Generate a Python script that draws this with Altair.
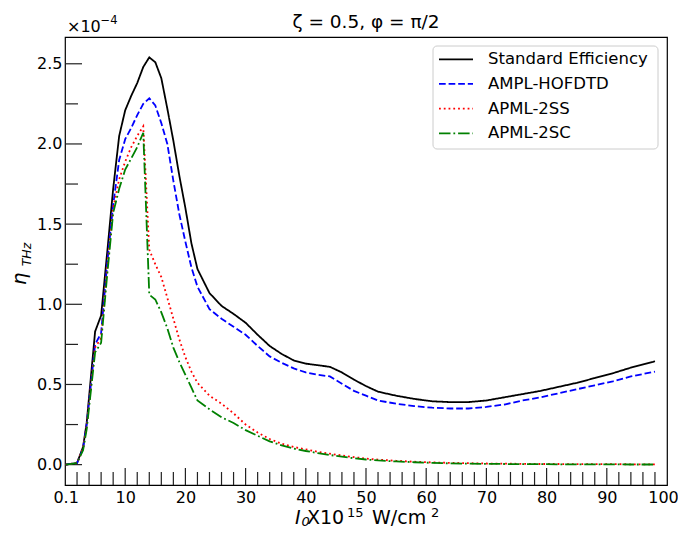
import altair as alt
import pandas as pd

FONT = "DejaVu Sans"

# ---------------- data (in units of 1e-4) ----------------
series_names = ["Standard Efficiency", "AMPL-HOFDTD", "APML-2SS", "APML-2SC"]
series_colors = ["#000000", "#0000ff", "#ff0000", "#008000"]
series_dashes = [[1, 0], [6.7, 2.9], [1.8, 2.97], [11.5, 2.9, 1.8, 2.9]]

intensity = [0.1, 2, 3, 3.6, 5, 6, 7, 8, 9, 10,
             11, 12, 13, 14, 15, 16, 17, 18, 19, 20, 21, 22,
             24, 26, 28, 30,
             32, 34, 36, 38, 40, 42, 44, 46, 48, 50,
             52,
             55, 58, 61, 64, 67, 70, 73, 76, 79, 82, 85, 88, 91, 94,
             98]

standard_eff = [0.0, 0.01, 0.11, 0.26, 0.83, 0.93, 1.32, 1.72, 2.05, 2.21,
                2.30, 2.38, 2.48, 2.54, 2.51, 2.41, 2.22, 2.02, 1.80, 1.60, 1.38, 1.22,
                1.07, 0.99, 0.94, 0.885,
                0.81, 0.74, 0.69, 0.65, 0.63, 0.62, 0.61, 0.575, 0.53, 0.49,
                0.455,
                0.43, 0.41, 0.395, 0.39, 0.39, 0.40, 0.42, 0.44, 0.46, 0.485, 0.51, 0.54, 0.57, 0.605,
                0.645]

ampl_hofdtd = [0.0, 0.01, 0.10, 0.25, 0.75, 0.82, 1.25, 1.62, 1.90, 2.03,
               2.10, 2.18, 2.25, 2.285, 2.24, 2.13, 2.00, 1.77, 1.56, 1.39, 1.23, 1.11,
               0.97, 0.91, 0.86, 0.81,
               0.74, 0.675, 0.635, 0.60, 0.575, 0.56, 0.55, 0.505, 0.46, 0.43,
               0.40,
               0.38, 0.365, 0.355, 0.35, 0.35, 0.36, 0.375, 0.40, 0.42, 0.445, 0.47, 0.495, 0.52, 0.55,
               0.58]

apml_2ss = [0.0, 0.01, 0.10, 0.24, 0.73, 0.79, 1.22, 1.60, 1.78, 1.89,
            1.98, 2.05, 2.11, 1.34, 1.25, 1.17, 1.04, 0.91, 0.78, 0.67, 0.58, 0.51,
            0.43, 0.38, 0.32, 0.25,
            0.20, 0.16, 0.13, 0.11, 0.095, 0.08, 0.068, 0.057, 0.047, 0.038,
            0.031,
            0.024, 0.018, 0.014, 0.011, 0.009, 0.007, 0.006, 0.005, 0.004, 0.004, 0.003, 0.003, 0.003, 0.002,
            0.002]

apml_2sc = [0.0, 0.01, 0.09, 0.22, 0.70, 0.76, 1.18, 1.57, 1.72, 1.84,
            1.91, 1.98, 2.07, 1.06, 1.03, 0.95, 0.85, 0.73, 0.64, 0.56, 0.48, 0.40,
            0.345, 0.295, 0.26, 0.215,
            0.18, 0.145, 0.12, 0.10, 0.085, 0.072, 0.06, 0.05, 0.04, 0.032,
            0.026,
            0.02, 0.015, 0.011, 0.008, 0.006, 0.005, 0.004, 0.003, 0.003, 0.002, 0.002, 0.002, 0.002, 0.001,
            0.001]

series_values = [standard_eff, ampl_hofdtd, apml_2ss, apml_2sc]

x_label_values = [0.1, 10, 20, 30, 40, 50, 60, 70, 80, 90, 100]
y_label_values = [0.0, 0.5, 1.0, 1.5, 2.0, 2.5]
x_major_ticks = [10, 20, 30, 40, 50, 60, 70, 80, 90]
x_minor_ticks = [v for v in range(2, 100, 2) if v % 10 != 0]
y_major_ticks = [0.0, 0.5, 1.0, 1.5, 2.0, 2.5]
y_minor_ticks = [0.25, 0.75, 1.25, 1.75, 2.25]

# ---------------- layout ----------------
W, H = 602, 448
xs = alt.Scale(domain=[0, 100], nice=False, zero=False)
ys = alt.Scale(domain=[-0.127, 2.667], nice=False, zero=False)

x_axis = alt.Axis(values=x_label_values,
                  labelExpr="datum.value < 1 ? '0.1' : format(datum.value, 'd')",
                  labelOffset={"condition": {"test": "datum.value >= 100", "value": -4}, "value": 0},
                  ticks=False, domain=False, grid=False,
                  labelFont=FONT, labelFontSize=16, labelColor="black", labelPadding=4,
                  labelFlush=False, labelOverlap=False, title=None)
y_axis = alt.Axis(values=y_label_values, format=".1f", ticks=False, domain=False, grid=False,
                  labelFont=FONT, labelFontSize=16, labelColor="black", labelPadding=3,
                  labelFlush=False, labelOverlap=False, title=None)

layers = []

# tick marks (pointing inward)
TICK_COLOR = "#222222"
layers.append(alt.Chart(pd.DataFrame({"v": x_minor_ticks})).mark_rule(color=TICK_COLOR, strokeWidth=1.2)
              .encode(x=alt.X("v:Q", scale=xs, axis=x_axis), y=alt.value(H), y2=alt.value(H - 13)))
layers.append(alt.Chart(pd.DataFrame({"v": x_major_ticks})).mark_rule(color=TICK_COLOR, strokeWidth=1.2)
              .encode(x=alt.X("v:Q", scale=xs, axis=x_axis), y=alt.value(H), y2=alt.value(H - 17)))
layers.append(alt.Chart(pd.DataFrame({"v": y_minor_ticks})).mark_rule(color=TICK_COLOR, strokeWidth=1.2)
              .encode(y=alt.Y("v:Q", scale=ys, axis=y_axis), x=alt.value(0), x2=alt.value(13)))
layers.append(alt.Chart(pd.DataFrame({"v": y_major_ticks})).mark_rule(color=TICK_COLOR, strokeWidth=1.2)
              .encode(y=alt.Y("v:Q", scale=ys, axis=y_axis), x=alt.value(0), x2=alt.value(17)))

# data lines
for name, color, dash, vals in zip(series_names, series_colors, series_dashes, series_values):
    df = pd.DataFrame({"x": intensity, "y": vals, "series": name})
    layers.append(alt.Chart(df).mark_line(color=color, strokeDash=dash, strokeWidth=1.8, clip=True)
                  .encode(x=alt.X("x:Q", scale=xs, axis=x_axis),
                          y=alt.Y("y:Q", scale=ys, axis=y_axis)))


def text_layer(txt, x, y, size, **kw):
    return (alt.Chart(pd.DataFrame({"t": [txt]}))
            .mark_text(font=FONT, fontSize=size, color="black", **kw)
            .encode(x=alt.value(x), y=alt.value(y), text="t:N"))


# legend box
layers.append(alt.Chart(pd.DataFrame({"t": ["box"]}))
              .mark_rect(fill="white", fillOpacity=0.8, stroke="#cccccc", strokeWidth=1, cornerRadius=4)
              .encode(x=alt.value(368), x2=alt.value(593), y=alt.value(9), y2=alt.value(112)))
for i, (name, color, dash) in enumerate(zip(series_names, series_colors, series_dashes)):
    ry = 22.3 + 24.67 * i
    layers.append(alt.Chart(pd.DataFrame({"t": [name]}))
                  .mark_rule(color=color, strokeDash=dash, strokeWidth=1.8)
                  .encode(x=alt.value(374), x2=alt.value(408), y=alt.value(ry)))
    layers.append(text_layer(name, 423, ry, 16.5, align="left", baseline="middle"))

# title
layers.append(text_layer("ζ = 0.5, φ = π/2", W / 2, -9, 18.5, align="center", baseline="alphabetic"))
# offset text
layers.append(text_layer("×10", 2, -5.5, 16, align="left", baseline="alphabetic"))
layers.append(text_layer("−4", 35.5, -13, 11.5, align="left", baseline="alphabetic"))
# x-axis title
XT = 487
layers.append(text_layer("I", 230, XT, 19, align="left", baseline="alphabetic", fontStyle="italic"))
layers.append(text_layer("0", 236.5, XT + 1.5, 13, align="left", baseline="alphabetic", fontStyle="italic"))
layers.append(text_layer("X10", 242, XT, 19, align="left", baseline="alphabetic"))
layers.append(text_layer("15", 282, XT - 7.5, 13, align="left", baseline="alphabetic"))
layers.append(text_layer("W/cm", 307, XT, 19, align="left", baseline="alphabetic"))
layers.append(text_layer("2", 366, XT - 7.5, 13, align="left", baseline="alphabetic"))
# y-axis title
layers.append(text_layer("η", -39, 242, 20, align="center", baseline="alphabetic", fontStyle="italic", angle=270))
layers.append(text_layer("THz", -34.5, 217.5, 12.5, align="center", baseline="alphabetic", fontStyle="italic", angle=270))

chart = (alt.layer(*layers)
         .properties(width=W, height=H,
                     padding={"left": 57, "top": 29, "right": 11, "bottom": 43},
                     autosize=alt.AutoSizeParams(type="none"))
         .configure_view(stroke="black", strokeWidth=1.2))

chart.save("out.html", embed_options={"renderer": "svg", "actions": False})
